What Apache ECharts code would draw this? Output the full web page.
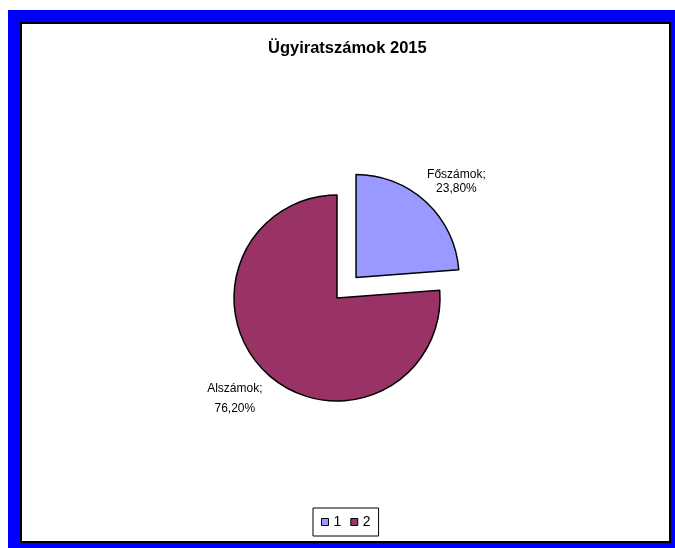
<!DOCTYPE html>
<html>
<head>
<meta charset="utf-8">
<script src="https://cdn.jsdelivr.net/npm/echarts@6/dist/echarts.min.js"></script>
<style>
html,body{margin:0;padding:0;background:#fff;}
#chart{width:675px;height:548px;}
</style>
</head>
<body>
<div id="chart"></div>
<script>
const titleText = 'Ügyiratszámok 2015';
const legendNames = ['1', '2'];
const sliceLabels = ['Főszámok', 'Alszámok'];
const sliceValues = [23.8, 76.2];
const sliceColors = ['#9999FF', '#993366'];

const labelTweaks = [
  { length: 27, length2: 7, lineHeight: 14 },
  { length: 34, length2: 4, lineHeight: 20 }
];

const chart = echarts.init(document.getElementById('chart'), null, { renderer: 'canvas' });

const data = legendNames.map((n, i) => ({
  name: n,
  value: sliceValues[i],
  selected: i === 0,
  itemStyle: { color: sliceColors[i] },
  label: { lineHeight: labelTweaks[i].lineHeight },
  labelLine: { show: false, length: labelTweaks[i].length, length2: labelTweaks[i].length2 }
}));

chart.setOption({
  animation: false,
  backgroundColor: '#ffffff',
  graphic: [
    { type: 'rect', z: -10, shape: { x: 8, y: 10, width: 680, height: 550 }, style: { fill: '#0000FF' } },
    { type: 'rect', z: -9, shape: { x: 21, y: 23, width: 649, height: 519 }, style: { fill: '#ffffff', stroke: '#000000', lineWidth: 2 } }
  ],
  title: {
    text: titleText,
    left: 263,
    top: 35,
    padding: [5, 5, 5, 5],
    textStyle: { fontFamily: 'Liberation Sans, Arial, sans-serif', fontWeight: 'bold', fontSize: 16.5, color: '#000' }
  },
  legend: {
    data: legendNames,
    bottom: 12,
    left: 313,
    orient: 'horizontal',
    icon: 'rect',
    itemWidth: 7,
    itemHeight: 7,
    itemGap: 9,
    padding: [7, 8, 7, 8],
    borderColor: '#000',
    borderWidth: 1,
    selectedMode: false,
    itemStyle: { borderColor: '#000', borderWidth: 1 },
    textStyle: { fontFamily: 'Liberation Sans, Arial, sans-serif', fontSize: 14, color: '#000' }
  },
  series: [{
    type: 'pie',
    center: [337, 298],
    radius: 103,
    startAngle: 90,
    clockwise: true,
    selectedMode: 'single',
    selectedOffset: 28,
    avoidLabelOverlap: false,
    itemStyle: { borderColor: '#000', borderWidth: 1.5 },
    label: {
      show: true,
      position: 'outside',
      fontFamily: 'Liberation Sans, Arial, sans-serif',
      fontSize: 12,
      color: '#000',
      formatter: p => sliceLabels[p.dataIndex] + ';\n' + p.value.toFixed(2).replace('.', ',') + '%'
    },
    labelLayout: { align: 'center' },
    emphasis: { disabled: true },
    data: data
  }]
});
</script>
</body>
</html>
